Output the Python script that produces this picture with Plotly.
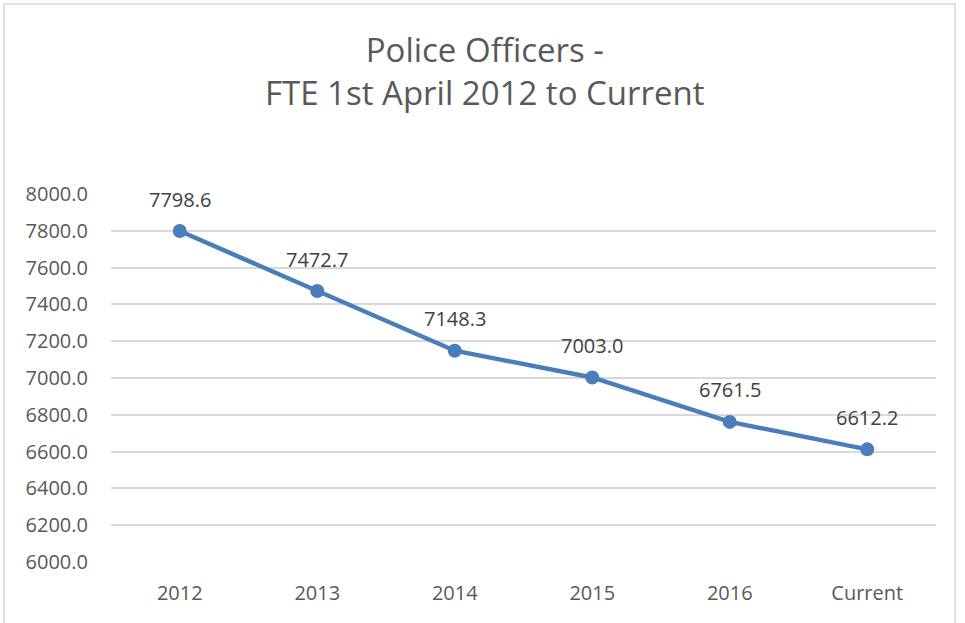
import plotly.graph_objects as go

categories = ["2012", "2013", "2014", "2015", "2016", "Current"]
fte_values = [7798.6, 7472.7, 7148.3, 7003.0, 6761.5, 6612.2]
y_ticks = [6000, 6200, 6400, 6600, 6800, 7000, 7200, 7400, 7600, 7800, 8000]
title_lines = ["Police Officers -", "FTE 1st April 2012 to Current"]

W, H = 965, 623
ml, mr, mt, mb = 111, 29, 194, 61
pw, ph = W - ml - mr, H - mt - mb
FONT = "Open Sans, Noto Sans, sans-serif"

idx = list(range(len(categories)))

fig = go.Figure()
fig.add_trace(go.Scatter(
    x=idx, y=fte_values, mode="lines+markers",
    line=dict(color="#4a7ebb", width=4.5),
    marker=dict(color="#4a7ebb", size=14),
    hoverinfo="skip", showlegend=False,
))

for i, v in zip(idx, fte_values):
    fig.add_annotation(x=i, y=v, text=f"{v:.1f}", showarrow=False,
                       yshift=32, font=dict(size=20, color="#404040"))

fig.add_annotation(x=(485 - ml) / pw, xref="paper", y=1 + (mt - 71) / ph, yref="paper",
                   xanchor="center", yanchor="middle", showarrow=False,
                   text="<br>".join(title_lines),
                   font=dict(size=33, color="#595959"))

fig.update_layout(
    width=W, height=H,
    margin=dict(l=ml, r=mr, t=mt, b=mb),
    paper_bgcolor="white", plot_bgcolor="white",
    font=dict(family=FONT, color="#595959"),
    xaxis=dict(range=[-0.5, len(categories) - 0.5], tickvals=idx, ticktext=categories,
               showgrid=False, showline=False, ticks="", zeroline=False,
               ticklabelstandoff=17,
               tickfont=dict(size=20, color="#595959"), fixedrange=True),
    yaxis=dict(range=[6000, 8000], tickvals=y_ticks,
               ticktext=[f"{t:.1f}" for t in y_ticks],
               showgrid=True, gridcolor="#d9d9d9", gridwidth=1.5,
               zeroline=False, showline=False, ticks="",
               ticklabelstandoff=22,
               tickfont=dict(size=20, color="#595959"), fixedrange=True),
    shapes=[dict(type="rect", xref="paper", yref="paper",
                 x0=(4 - ml) / pw, x1=(955 - ml) / pw,
                 y0=-(mb + 20) / ph, y1=1 + (mt - 4) / ph,
                 line=dict(color="#d9d9d9", width=1.5), layer="below")],
)

fig.write_html("out.html", config={"displayModeBar": False},
               post_script="document.body.style.margin='0';document.body.style.overflow='hidden';")
